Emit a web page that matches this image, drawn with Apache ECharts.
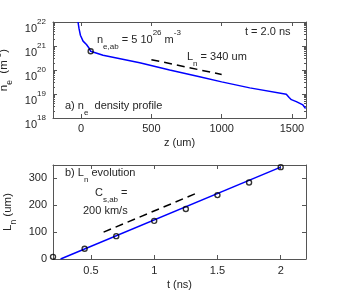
<!DOCTYPE html>
<html><head><meta charset="utf-8">
<script src="https://cdn.jsdelivr.net/npm/echarts@6/dist/echarts.min.js"></script>
<style>html,body{margin:0;padding:0;background:#fff}#c{width:338px;height:300px}</style>
</head><body><div id="c"></div>
<script>
// ---- panel a) density profile ----
const zPos = [-22, -15, -5, 14, 38, 56, 68, 156, 417, 630, 843, 1000, 1200, 1460, 1480, 1496, 1531, 1578, 1597];
const nDensity = [1e22, 5.4e21, 2.8e21, 1.6e21, 1.15e21, 8.3e20, 6.0e20, 4.1e20, 2.0e20, 1.0e20, 5.2e19, 3.2e19, 1.8e19, 9.8e18, 7.2e18, 5.8e18, 4.8e18, 3.5e18, 2.5e18];
const abZ = [68];
const abN = [6.0e20];
const lnRefZ = [500, 1000];
const lnRefN = [2.7e20, 6.5e19];
const zTicks = [0, 500, 1000, 1500];
const nDecades = [18, 19, 20, 21, 22];
// ---- panel b) Ln evolution ----
const tTimes = [0.2, 0.45, 0.7, 1.0, 1.25, 1.5, 1.75, 2.0];
const lnValues = [8, 38, 85, 142, 186, 238, 285, 342];
const fitT = [0.26, 2.0];
const fitL = [0, 342];
const csT = [0.6, 1.35];
const csL = [100, 248];
const tTicks = [0.5, 1, 1.5, 2];
const lTicks = [0, 100, 200, 300];

const F = "'Liberation Sans', Arial, Helvetica, sans-serif";
const TC = '#262626';
const AC = '#555555';
const zip = (a, b) => a.map((v, i) => [v, b[i]]);
const minorLog = [];
for (let e = nDecades[0]; e < nDecades[nDecades.length - 1]; e++) {
  for (let k = 2; k <= 9; k++) minorLog.push(e + Math.log10(k));
}

const richEC = {
  m: {fontSize: 11, fontFamily: F, color: TC, lineHeight: 22},
  sup: {fontSize: 8, fontFamily: F, color: TC, lineHeight: 10, verticalAlign: 'top'},
  sub: {fontSize: 8, fontFamily: F, color: TC, lineHeight: 10, verticalAlign: 'bottom'}
};
const richName = {
  m: {fontSize: 11.5, fontFamily: F, color: TC, lineHeight: 20},
  sup: {fontSize: 8.5, fontFamily: F, color: TC, lineHeight: 9, verticalAlign: 'top'},
  sub: {fontSize: 8.5, fontFamily: F, color: TC, lineHeight: 9, verticalAlign: 'bottom'}
};
const richZR = {
  m: {fontSize: 11, fontFamily: F, fill: TC, lineHeight: 22},
  sup: {fontSize: 8, fontFamily: F, fill: TC, lineHeight: 10, verticalAlign: 'top'},
  sub: {fontSize: 8, fontFamily: F, fill: TC, lineHeight: 10, verticalAlign: 'bottom'}
};
function txt(x, y, t) {
  return {type: 'text', x: x, y: y, z: 100,
    style: {text: t, rich: richZR, fill: TC, fontSize: 11, fontFamily: F, align: 'left', verticalAlign: 'top'}};
}

const lineAx = {show: true, onZero: false, lineStyle: {color: AC, width: 1}};
const tickAx = (len, vals) => {
  const o = {show: true, inside: true, length: len, lineStyle: {color: AC, width: 1}};
  if (vals) o.customValues = vals;
  return o;
};
const noLab = {show: false};
const noSplit = {show: false};
const fmt = v => String(v);

const grids = [
  {left: 53, right: 32, top: 22, height: 96, containLabel: false, outerBoundsMode: 'none'},
  {left: 53, right: 32, top: 165, height: 94, containLabel: false, outerBoundsMode: 'none'}
];

const option = {
  animation: false,
  backgroundColor: '#fff',
  grid: grids,
  xAxis: [
    {gridIndex: 0, type: 'value', position: 'bottom', min: -200, max: 1600,
     axisLine: lineAx, axisTick: tickAx(4, zTicks), splitLine: noSplit,
     axisLabel: {customValues: zTicks, formatter: fmt, color: TC, fontSize: 11, fontFamily: F, margin: 5},
     name: 'z (um)', nameLocation: 'middle', nameGap: 19,
     nameTextStyle: {color: TC, fontSize: 11, fontFamily: F}},
    {gridIndex: 0, type: 'value', position: 'top', min: -200, max: 1600,
     axisLine: lineAx, axisTick: tickAx(4, zTicks), splitLine: noSplit, axisLabel: noLab},
    {gridIndex: 1, type: 'value', position: 'bottom', min: 0.2, max: 2.2,
     axisLine: lineAx, axisTick: tickAx(4, tTicks), splitLine: noSplit,
     axisLabel: {customValues: tTicks, formatter: fmt, color: TC, fontSize: 11, fontFamily: F, margin: 6},
     name: 't (ns)', nameLocation: 'middle', nameGap: 20,
     nameTextStyle: {color: TC, fontSize: 11, fontFamily: F}},
    {gridIndex: 1, type: 'value', position: 'top', min: 0.2, max: 2.2,
     axisLine: lineAx, axisTick: tickAx(4, tTicks), splitLine: noSplit, axisLabel: noLab}
  ],
  yAxis: [
    {gridIndex: 0, type: 'log', logBase: 10, position: 'left', min: 1e18, max: 1e22,
     axisLine: lineAx, axisTick: tickAx(4), splitLine: noSplit, minorTick: {show: false},
     axisLabel: {color: TC, margin: 7, rich: richEC, padding: [13, 0, 0, 0],
       formatter: v => '{m|10}{sup|' + Math.round(Math.log10(v)) + '}'},
     name: '{m|n}{sub|e}{m|  (m}{sup|-3}{m|)}', nameLocation: 'middle', nameGap: 38, nameRotate: 90,
     nameTextStyle: {color: TC, fontSize: 11.5, fontFamily: F, rich: richName}},
    {gridIndex: 0, type: 'log', logBase: 10, position: 'right', min: 1e18, max: 1e22,
     axisLine: lineAx, axisTick: tickAx(4), splitLine: noSplit, axisLabel: noLab},
    {gridIndex: 0, type: 'value', position: 'left', min: nDecades[0], max: nDecades[nDecades.length - 1],
     axisLine: {show: false, onZero: false}, axisTick: tickAx(2, minorLog), splitLine: noSplit, axisLabel: noLab},
    {gridIndex: 0, type: 'value', position: 'right', min: nDecades[0], max: nDecades[nDecades.length - 1],
     axisLine: {show: false, onZero: false}, axisTick: tickAx(2, minorLog), splitLine: noSplit, axisLabel: noLab},
    {gridIndex: 1, type: 'value', position: 'left', min: 0, max: 350,
     axisLine: lineAx, axisTick: tickAx(4, lTicks), splitLine: noSplit,
     axisLabel: {customValues: lTicks, formatter: fmt, color: TC, fontSize: 11, fontFamily: F, margin: 6},
     name: '{m|L}{sub|n}{m| (um)}', nameLocation: 'middle', nameGap: 32, nameRotate: 90,
     nameTextStyle: {color: TC, fontSize: 11.5, fontFamily: F, rich: richName}},
    {gridIndex: 1, type: 'value', position: 'right', min: 0, max: 350,
     axisLine: lineAx, axisTick: tickAx(4, lTicks), splitLine: noSplit, axisLabel: noLab}
  ],
  series: [
    {type: 'line', xAxisIndex: 0, yAxisIndex: 0, data: zip(zPos, nDensity), symbol: 'none',
     lineStyle: {color: '#0000ff', width: 1.5}, z: 3},
    {type: 'line', xAxisIndex: 0, yAxisIndex: 0, data: zip(lnRefZ, lnRefN), symbol: 'none',
     lineStyle: {color: '#000', width: 1.5, type: [8, 5]}, z: 3},
    {type: 'scatter', xAxisIndex: 0, yAxisIndex: 0, data: zip(abZ, abN), symbol: 'circle', symbolSize: 5,
     itemStyle: {color: 'rgba(0,0,0,0)', borderColor: '#000', borderWidth: 1.4}, z: 4},
    {type: 'line', xAxisIndex: 2, yAxisIndex: 4, data: zip(fitT, fitL), symbol: 'none',
     lineStyle: {color: '#0000ff', width: 1.5}, z: 3},
    {type: 'line', xAxisIndex: 2, yAxisIndex: 4, data: zip(csT, csL), symbol: 'none',
     lineStyle: {color: '#000', width: 1.5, type: [8, 5]}, z: 3},
    {type: 'scatter', xAxisIndex: 2, yAxisIndex: 4, data: zip(tTimes, lnValues), symbol: 'circle', symbolSize: 5,
     clip: false,
     itemStyle: {color: 'rgba(0,0,0,0)', borderColor: '#000', borderWidth: 1.4}, z: 4}
  ],
  graphic: [
    txt(97, 29, '{m|n}{sub|e,ab}{m| = 5 10}{sup|26}{m| m}{sup|-3}'),
    txt(187, 46, '{m|L}{sub|n}{m| = 340 um}'),
    txt(245, 21, '{m|t = 2.0 ns}'),
    txt(65, 95, '{m|a) n}{sub|e}{m|  density profile}'),
    txt(65, 162, '{m|b) L}{sub|n}{m| evolution}'),
    txt(95, 182, '{m|C}{sub|s,ab}{m| =}'),
    txt(83, 200, '{m|200 km/s}')
  ]
};
const chart = echarts.init(document.getElementById('c'), null, {renderer: 'canvas'});
chart.setOption(option);
</script></body></html>
